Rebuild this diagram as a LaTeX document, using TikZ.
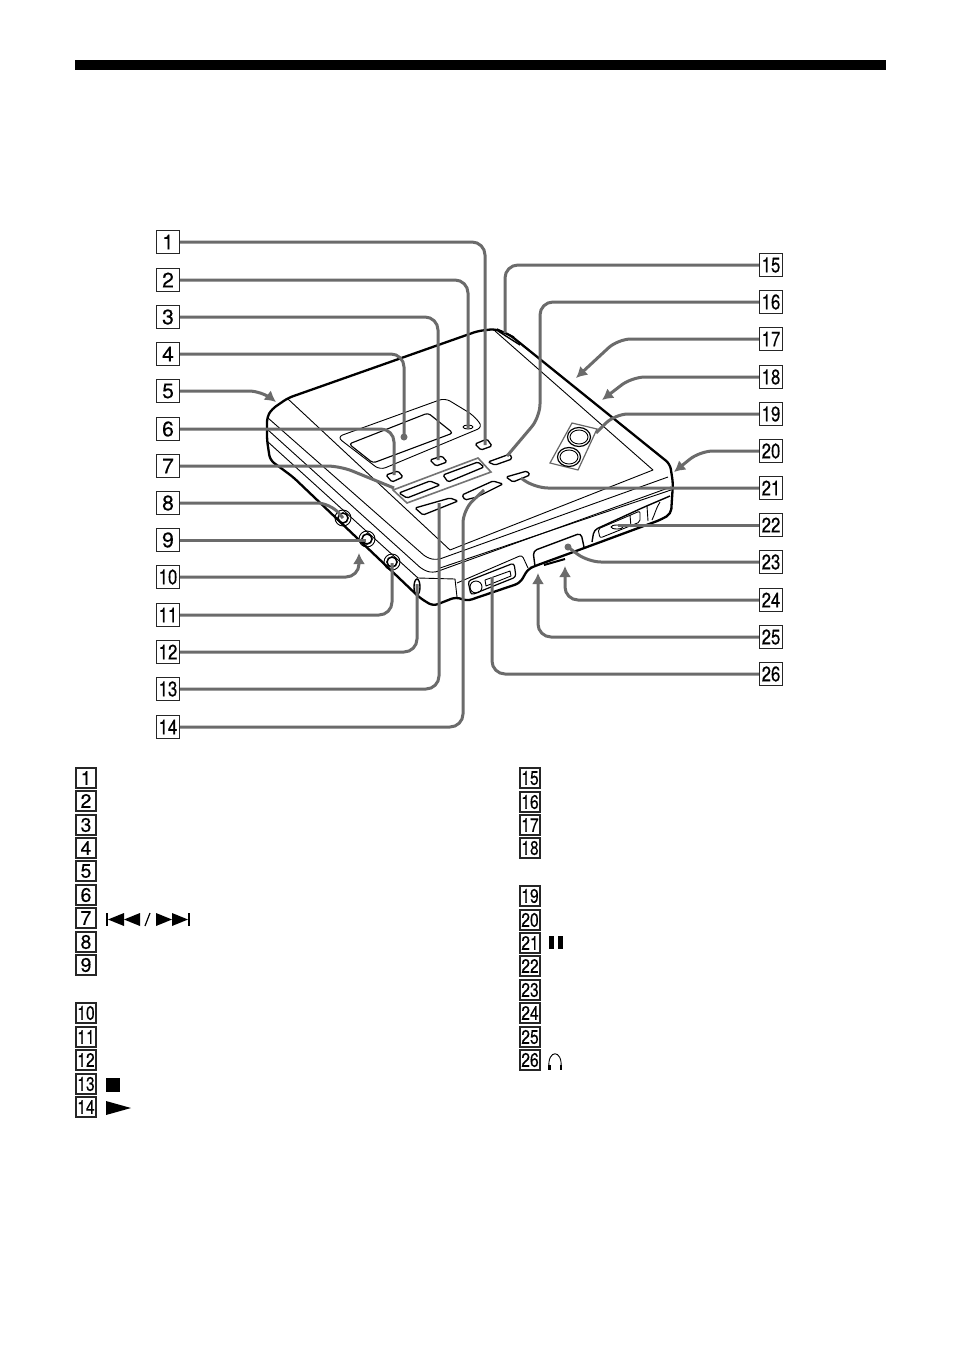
\documentclass[tikz,border=0pt]{standalone}
\usepackage{fontspec}
\usepackage{graphicx}
\setmainfont[FakeBold=.3]{TeX Gyre Heros}
\usetikzlibrary{arrows.meta}
\definecolor{leadgray}{gray}{0.42}
\newcommand{\tagnum}[1]{\ifnum#1>9 \scalebox{.8}[1]{#1}\else #1\fi}
\tikzset{
  tagbig/.style={draw=black!85,line width=1.4pt,fill=white,inner sep=0pt,minimum size=23pt,font=\fontsize{21}{21}\selectfont},
  taglist/.style={draw=black!85,line width=1.2pt,fill=white,inner sep=0pt,minimum width=20pt,minimum height=20pt,font=\fontsize{19.5}{19.5}\selectfont},
  leader/.style={draw=leadgray,line width=3pt,rounded corners=13pt},
  leadarrow/.style={leader,-{Latex[length=11pt,width=12pt]}},
  bodythick/.style={draw=black,line width=2.3pt,line join=round,rounded corners=5pt},
  bodythin/.style={draw=black,line width=.9pt,line join=round},
  btn/.style={draw=black,line width=1.3pt,rounded corners=1.5pt,fill=white},
}
\begin{document}
\begin{tikzpicture}[x=1pt,y=-1pt]
    \useasboundingbox[fill=white] (0,0) rectangle (954,1357);
    \fill (75,60) rectangle (886,70);

    % body of the player
    \draw[bodythick] (267,440) -- (267,417) -- (272,409) -- (288,398) -- (478,331) -- (495,329) -- (510,335)
        -- (670,464) -- (673,483) -- (671,514) -- (660,520) -- (587,547) -- (535,566) -- (528,569)
        -- (520,583) -- (467,601) -- (456,597) -- (433,606) -- (420,598) -- (293,477) -- (270,460) -- cycle;
    \draw[bodythin] (288,399) -- (450,550) -- (653,470) -- (495,331);
    \draw[bodythin,rounded corners=5pt] (268,418) -- (427,558) -- (437,560) -- (668,477);
    \draw[bodythin,rounded corners=5pt] (268,430) -- (423,570) -- (433,573) -- (671,487);
    \draw[bodythin] (440,568) -- (671,490);
    \draw[bodythin] (268,442) -- (418,578) -- (455,579) -- (457,597);
    \draw[line width=1.4pt] (498,331) -- (520,345) (497,329) -- (514,337);

    % display
    \draw[bodythin,rounded corners=6pt] (337,437) -- (445,398) -- (473,415) -- (483,427) -- (380,470) -- cycle;
    \draw[line width=1.1pt,rounded corners=3pt] (349,444) -- (428,413) -- (453,433) -- (373,463) -- cycle;
    \draw[bodythin] (468,427) ellipse (5 and 2);

    % buttons
    \draw[btn] (475,444) -- (487,439) -- (492,446) -- (481,450) -- cycle;
    \draw[btn] (430,460) -- (442,456) -- (447,462) -- (436,466) -- cycle;
    \draw[btn] (386,475) -- (398,471) -- (403,477) -- (392,482) -- cycle;
    \draw[btn] (488,462) -- (510,454) -- (512,459) -- (495,465) -- cycle;
    \draw[btn] (506,477) -- (527,471) -- (530,475) -- (513,482) -- cycle;
    \draw[draw=black!55,line width=1.6pt] (393,490) -- (478,458) -- (491,472) -- (407,503) -- cycle;
    \draw[btn] (399,493) -- (430,481) -- (440,485) -- (407,498) -- cycle;
    \draw[btn] (443,475) -- (478,462) -- (484,467) -- (448,482) -- cycle;
    \draw[btn] (415,508) -- (450,498) -- (458,501) -- (423,515) -- cycle;
    \draw[btn] (462,495) -- (493,481) -- (503,484) -- (477,497) -- (465,500) -- cycle;

    % jacks on the left side
    \draw[bodythin] (343,518) circle (8);
    \draw[line width=1.6pt] (343,518) circle (5);
    \draw[bodythin] (367,539) circle (8);
    \draw[line width=1.6pt] (367,539) circle (5);
    \draw[bodythin] (392,562) circle (8);
    \draw[line width=1.6pt] (392,562) circle (5);
    \draw[line width=1.4pt] (417,587) ellipse (3 and 8);

    % headphone socket and hold
    \draw[bodythin,rounded corners=3pt] (457,583) -- (522,555) -- (528,568);
    \draw[line width=1.2pt,rounded corners=3pt] (468,581) -- (514,563) -- (516,577) -- (471,595) -- cycle;
    \draw[bodythin] (476,587) circle (6);
    \draw[bodythin] (485,580) -- (510,571) -- (511,576) -- (486,586) -- cycle;
    \draw[line width=1.4pt,rounded corners=4pt] (535,566) -- (533,551) -- (581,533) -- (584,547);
    \draw[line width=2pt] (544,565) -- (565,559);

    % slide switch
    \draw[line width=1.4pt,rounded corners=4pt] (592,542) -- (594,530) -- (642,508) -- (670,496);
    \draw[bodythin,rounded corners=2pt] (598,529) -- (640,511) -- (640,522) -- (600,538) -- cycle;
    \draw[bodythin] (617,527) ellipse (6 and 2);
    \draw[bodythin] (630,515) -- (631,527) (647,506) -- (648,521);
    \draw[bodythin] (660,502) .. controls (656,508) and (655,514) .. (652,520);

    % battery lid
    \draw[draw=black!60,line width=1.2pt] (572,423) -- (597,429) -- (578,470) -- (550,463) -- cycle;
    \foreach \cx / \cy in {579/437,569/457} {
        \draw[line width=1.2pt] (\cx,\cy) ellipse (11.5 and 9.5);
        \draw[bodythin] (\cx,\cy) ellipse (9 and 7);
    }

    % tags
    \foreach \n / \y in {1/242,2/280,3/317,4/354,5/391,6/429,7/466,8/503,9/540,10/577,11/615,12/652,13/689,14/727}
        \node[tagbig] (t\n) at (168,\y) {\tagnum{\n}};
    \foreach \n / \y in {15/265,16/302,17/339,18/377,19/414,20/451,21/488,22/525,23/562,24/600,25/637,26/674}
        \node[tagbig] (t\n) at (771,\y) {\tagnum{\n}};
    \foreach \n / \y in {1/778,2/801,3/825,4/848,5/871,6/895,7/918,8/942,9/965,10/1013,11/1037,12/1060,13/1084,14/1107}
        \node[taglist] (a\n) at (86,\y) {\tagnum{\n}};
    \foreach \n / \y in {15/778,16/802,17/825,18/848,19/896,20/920,21/943,22/966,23/990,24/1013,25/1037,26/1060}
        \node[taglist] (a\n) at (530,\y) {\tagnum{\n}};

    % ends of the leaders
    \coordinate (e1) at (485,445);
    \coordinate (e2) at (468,428);
    \coordinate (e3) at (438,460);
    \coordinate (e4) at (404,437);
    \coordinate (e6) at (394,475);
    \coordinate (e9) at (366,540);
    \coordinate (e10) at (359,553);
    \coordinate (e11) at (392,563);
    \coordinate (e12) at (417,584);
    \coordinate (e13) at (439,503);
    \coordinate (e15) at (505,333);
    \coordinate (e22) at (618,525);
    \coordinate (e24) at (565,566);
    \coordinate (e25) at (538,573);
    \coordinate (e26) at (492,577);
    \coordinate (b5) at (262,391);   \coordinate (e5) at (276,402);
    \coordinate (b7) at (340,466);   \coordinate (e7) at (394,488);
    \coordinate (b8) at (330,503);   \coordinate (e8) at (343,518);
    \coordinate (b14a) at (463,510); \coordinate (e14) at (484,490);
    \coordinate (b16a) at (540,302); \coordinate (b16b) at (540,417); \coordinate (e16) at (507,456);
    \coordinate (b17) at (618,339);  \coordinate (e17) at (576,378);
    \coordinate (b18) at (632,377);  \coordinate (e18) at (602,400);
    \coordinate (b19) at (615,414);  \coordinate (e19) at (596,433);
    \coordinate (b20) at (700,451);  \coordinate (e20) at (674,472);
    \coordinate (b21) at (535,488);  \coordinate (e21) at (521,478);
    \coordinate (b23) at (588,562);  \coordinate (e23) at (568,547);

    % leaders
    \foreach \from / \to in {1/1,2/2,3/3,4/4,6/6,12/12,13/13,11/11}
        \draw[leader] (t\from.east) -| (e\to);
    \draw[leader] (t9.east) -- (e9);
    \draw[leader] (t22.west) -- (e22);
    \draw[leader] (t15.west) -| (e15);
    \draw[leader] (t26.west) -| (e26);
    \foreach \from / \to in {10/10}
        \draw[leadarrow] (t\from.east) -| (e\to);
    \foreach \from / \to in {24/24,25/25}
        \draw[leadarrow] (t\from.west) -| (e\to);
    \draw[leader] (t7.east) -- (b7) -- (e7);
    \draw[leader] (t8.east) -- (b8) -- (e8);
    \draw[leader] (t14.east) -| (b14a) -- (e14);
    \draw[leader] (t16.west) -- (b16a) -- (b16b) -- (e16);
    \draw[leader] (t19.west) -- (b19) -- (e19);
    \draw[leader] (t21.west) -- (b21) -- (e21);
    \draw[leader] (t23.west) -- (b23) -- (e23);
    \draw[leadarrow] (t5.east) -- (b5) -- (e5);
    \draw[leadarrow] (t17.west) -- (b17) -- (e17);
    \draw[leadarrow] (t18.west) -- (b18) -- (e18);
    \draw[leadarrow] (t20.west) -- (b20) -- (e20);
    \fill[leadgray] (e4) circle (3.5pt);
    \fill[leadgray] (e23) circle (3.5pt);

    % key symbols of the list
    \fill (106,913) rectangle (108,926);
    \fill (108,919.5) -- (124,913) -- (124,926) -- cycle;
    \fill (124,919.5) -- (140,913) -- (140,926) -- cycle;
    \draw[line width=1.2pt] (145,926) -- (150,913);
    \fill (156,913) -- (172,919.5) -- (156,926) -- cycle;
    \fill (172,913) -- (188,919.5) -- (172,926) -- cycle;
    \fill (188,913) rectangle (190,926);
    \fill (106,1078) rectangle (120,1092);
    \fill (106,1101) -- (131,1108) -- (106,1115) -- cycle;
    \fill (549,936) rectangle (554,949);
    \fill (558,936) rectangle (563,949);
    \draw[line width=.9pt] (549,1068) .. controls (547,1049) and (563,1049) .. (561,1068);
    \fill (548,1065) rectangle (550.5,1070);
    \fill (559.5,1065) rectangle (562,1070);
\end{tikzpicture}
\end{document}
